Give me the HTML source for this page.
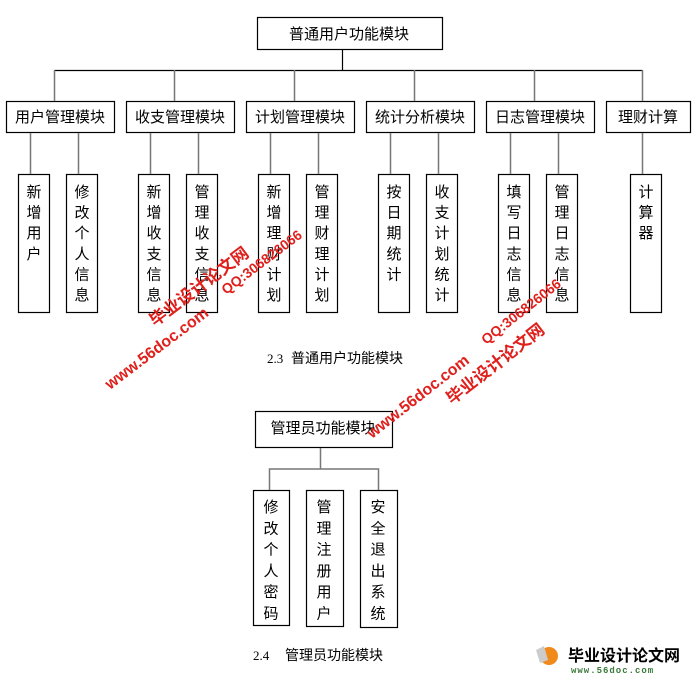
<!DOCTYPE html>
<html><head><meta charset="utf-8"><style>
html,body{margin:0;padding:0;background:#fff;}
svg{display:block;}
text{font-family:"Liberation Sans","Noto Sans CJK SC",sans-serif;fill:#000;}
.wm text{font-family:"Liberation Sans","Noto Sans CJK SC",sans-serif;font-weight:bold;fill:#e0201c;}
</style></head><body>
<svg width="698" height="677" viewBox="0 0 698 677" xmlns="http://www.w3.org/2000/svg">
<g fill="#fff" stroke="#000" stroke-width="1.2">
<rect x="257.5" y="17.5" width="185" height="32"/>
<rect x="6.5" y="101.5" width="108" height="31"/>
<rect x="126.5" y="101.5" width="108" height="31"/>
<rect x="246.5" y="101.5" width="108" height="31"/>
<rect x="366.5" y="101.5" width="108" height="31"/>
<rect x="486.5" y="101.5" width="108" height="31"/>
<rect x="606.5" y="101.5" width="84" height="31"/>
<rect x="18.5" y="174.5" width="31" height="138"/>
<rect x="66.5" y="174.5" width="31" height="138"/>
<rect x="138.5" y="174.5" width="31" height="138"/>
<rect x="186.5" y="174.5" width="31" height="138"/>
<rect x="258.5" y="174.5" width="31" height="138"/>
<rect x="306.5" y="174.5" width="31" height="138"/>
<rect x="378.5" y="174.5" width="31" height="138"/>
<rect x="426.5" y="174.5" width="31" height="138"/>
<rect x="498.5" y="174.5" width="31" height="138"/>
<rect x="546.5" y="174.5" width="31" height="138"/>
<rect x="630.5" y="174.5" width="31" height="138"/>
<rect x="255.5" y="411.5" width="137" height="36"/>
<rect x="253.5" y="490.5" width="36" height="135"/>
<rect x="306.5" y="490.5" width="37" height="136"/>
<rect x="360.5" y="490.5" width="37" height="137"/>
</g>
<g stroke="#000" stroke-width="1.2" fill="none">
<path d="M54 70.5H642.5"/>
<path d="M342.5 49.5V70.5"/>
</g>
<g stroke="#777" stroke-width="1.5" fill="none">
<path d="M54.5 70V101M174.5 70V101M294.5 70V101M414.5 70V101M534.5 70V101M642.5 70V101"/>
<path d="M30.5 133V174M78.5 133V174M150.5 133V174M198.5 133V174M270.5 133V174M318.5 133V174M390.5 133V174M438.5 133V174M510.5 133V174M558.5 133V174M642.5 133V174"/>
<path d="M320.5 448V469M269.5 490V469H378.5V490"/>
</g>
<g font-size="15">
<text x="349" y="39" text-anchor="middle">普通用户功能模块</text>
<text x="60" y="122" text-anchor="middle">用户管理模块</text>
<text x="180" y="122" text-anchor="middle">收支管理模块</text>
<text x="300" y="122" text-anchor="middle">计划管理模块</text>
<text x="420" y="122" text-anchor="middle">统计分析模块</text>
<text x="540" y="122" text-anchor="middle">日志管理模块</text>
<text x="648" y="122" text-anchor="middle">理财计算</text>
<text x="323" y="433" text-anchor="middle">管理员功能模块</text>
</g>
<g font-size="15" text-anchor="middle">
<text x="34" y="197">新<tspan x="34" dy="20.6">增</tspan><tspan x="34" dy="20.6">用</tspan><tspan x="34" dy="20.6">户</tspan></text>
<text x="82" y="197">修<tspan x="82" dy="20.6">改</tspan><tspan x="82" dy="20.6">个</tspan><tspan x="82" dy="20.6">人</tspan><tspan x="82" dy="20.6">信</tspan><tspan x="82" dy="20.6">息</tspan></text>
<text x="154" y="197">新<tspan x="154" dy="20.6">增</tspan><tspan x="154" dy="20.6">收</tspan><tspan x="154" dy="20.6">支</tspan><tspan x="154" dy="20.6">信</tspan><tspan x="154" dy="20.6">息</tspan></text>
<text x="202" y="197">管<tspan x="202" dy="20.6">理</tspan><tspan x="202" dy="20.6">收</tspan><tspan x="202" dy="20.6">支</tspan><tspan x="202" dy="20.6">信</tspan><tspan x="202" dy="20.6">息</tspan></text>
<text x="274" y="197">新<tspan x="274" dy="20.6">增</tspan><tspan x="274" dy="20.6">理</tspan><tspan x="274" dy="20.6">财</tspan><tspan x="274" dy="20.6">计</tspan><tspan x="274" dy="20.6">划</tspan></text>
<text x="322" y="197">管<tspan x="322" dy="20.6">理</tspan><tspan x="322" dy="20.6">财</tspan><tspan x="322" dy="20.6">理</tspan><tspan x="322" dy="20.6">计</tspan><tspan x="322" dy="20.6">划</tspan></text>
<text x="394" y="197">按<tspan x="394" dy="20.6">日</tspan><tspan x="394" dy="20.6">期</tspan><tspan x="394" dy="20.6">统</tspan><tspan x="394" dy="20.6">计</tspan></text>
<text x="442" y="197">收<tspan x="442" dy="20.6">支</tspan><tspan x="442" dy="20.6">计</tspan><tspan x="442" dy="20.6">划</tspan><tspan x="442" dy="20.6">统</tspan><tspan x="442" dy="20.6">计</tspan></text>
<text x="514" y="197">填<tspan x="514" dy="20.6">写</tspan><tspan x="514" dy="20.6">日</tspan><tspan x="514" dy="20.6">志</tspan><tspan x="514" dy="20.6">信</tspan><tspan x="514" dy="20.6">息</tspan></text>
<text x="562" y="197">管<tspan x="562" dy="20.6">理</tspan><tspan x="562" dy="20.6">日</tspan><tspan x="562" dy="20.6">志</tspan><tspan x="562" dy="20.6">信</tspan><tspan x="562" dy="20.6">息</tspan></text>
<text x="646" y="197">计<tspan x="646" dy="20.6">算</tspan><tspan x="646" dy="20.6">器</tspan></text>
<text x="271" y="512">修<tspan x="271" dy="21.3">改</tspan><tspan x="271" dy="21.3">个</tspan><tspan x="271" dy="21.3">人</tspan><tspan x="271" dy="21.3">密</tspan><tspan x="271" dy="21.3">码</tspan></text>
<text x="324" y="512">管<tspan x="324" dy="21.3">理</tspan><tspan x="324" dy="21.3">注</tspan><tspan x="324" dy="21.3">册</tspan><tspan x="324" dy="21.3">用</tspan><tspan x="324" dy="21.3">户</tspan></text>
<text x="378" y="512">安<tspan x="378" dy="21.3">全</tspan><tspan x="378" dy="21.3">退</tspan><tspan x="378" dy="21.3">出</tspan><tspan x="378" dy="21.3">系</tspan><tspan x="378" dy="21.3">统</tspan></text>
</g>
<text x="267" y="363" font-size="13" style="font-family:'Liberation Serif',serif">2.3</text>
<text x="291" y="363" font-size="14">普通用户功能模块</text>
<text x="253" y="660" font-size="13" style="font-family:'Liberation Serif',serif">2.4</text>
<text x="285" y="660" font-size="14">管理员功能模块</text>
<g class="wm">
<text transform="translate(110,390) rotate(-37)" font-size="16">www.56doc.com</text>
<text transform="translate(155,327) rotate(-37)" font-size="17">毕业设计论文网</text>
<text transform="translate(226,295) rotate(-37)" font-size="14">QQ:306826066</text>
<text transform="translate(372,439) rotate(-38)" font-size="16">www.56doc.com</text>
<text transform="translate(452,405) rotate(-38)" font-size="17">毕业设计论文网</text>
<text transform="translate(486,345) rotate(-38)" font-size="14">QQ:306826066</text>
</g>
<circle cx="549" cy="656" r="9" fill="#f08a1a"/>
<path d="M536 650l8-4 4 14-8 3z" fill="#ccc"/>
<text x="568" y="661" font-size="16" font-weight="bold" fill="#222">毕业设计论文网</text>
<text x="571" y="673" font-size="9" font-weight="bold" style="font-family:'Liberation Mono',monospace;letter-spacing:1px;fill:#3a7a3a">www.56doc.com</text>
</svg>
</body></html>
